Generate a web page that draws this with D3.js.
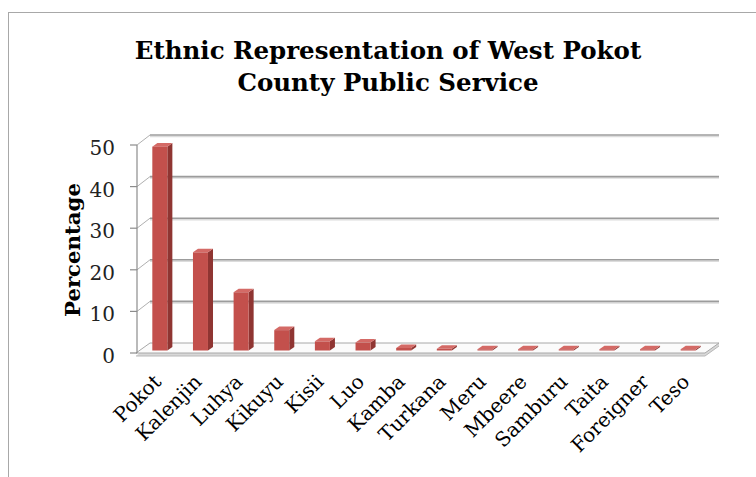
<!DOCTYPE html>
<html>
<head>
<meta charset="utf-8">
<script src="https://cdn.jsdelivr.net/npm/d3@7"></script>
<style>
  html, body { margin: 0; padding: 0; background: #fff; }
  svg { display: block; }
</style>
</head>
<body>
<svg id="chart" width="756" height="477"></svg>
<script>
const titleLines = ["Ethnic Representation of West Pokot", "County Public Service"];
const categories = ["Pokot", "Kalenjin", "Luhya", "Kikuyu", "Kisii", "Luo", "Kamba", "Turkana", "Meru", "Mbeere", "Samburu", "Taita", "Foreigner", "Teso"];
const values = [49, 23.6, 14, 4.9, 2.2, 1.9, 0.6, 0.4, 0.3, 0.3, 0.3, 0.3, 0.3, 0.3];
const yTicks = [0, 10, 20, 30, 40, 50];
const yTitle = "Percentage";

const svg = d3.select("#chart");
const serif = "'DejaVu Serif', 'Liberation Serif', serif";

// frame
svg.append("rect").attr("x", 8.5).attr("y", 12.5).attr("width", 800).attr("height", 500)
  .attr("fill", "none").attr("stroke", "#a8a8a8").attr("stroke-width", 1);

// title
svg.append("g").selectAll("text").data(titleLines).join("text")
  .attr("x", 388).attr("y", (d, i) => 59 + i * 32)
  .attr("text-anchor", "middle")
  .attr("font-family", serif).attr("font-weight", "bold").attr("font-size", 24.5)
  .attr("fill", "#000")
  .text(d => d);

// scales (front plane)
const x = d3.scaleBand().domain(categories).range([136, 705]).paddingInner(0).paddingOuter(0);
const y = d3.scaleLinear().domain([0, 50]).range([353, 145]);
const DX = 14, DY = -10; // depth offset

// back wall gridlines
const grid = svg.append("g");
yTicks.forEach(t => {
  if (t === 0) return;
  const yf = y(t), yb = y(t) + DY;
  grid.append("line").attr("x1", 150).attr("x2", 719).attr("y1", yb + 1.5).attr("y2", yb + 1.5)
    .attr("stroke", "#dcdcdc").attr("stroke-width", 1.5);
  grid.append("line").attr("x1", 150).attr("x2", 719).attr("y1", yb).attr("y2", yb)
    .attr("stroke", "#9c9c9c").attr("stroke-width", 1.6);
  grid.append("line").attr("x1", 137).attr("x2", 150).attr("y1", yf).attr("y2", yb)
    .attr("stroke", "#b0b0b0").attr("stroke-width", 1);
});

// floor
const floor = svg.append("g");
const x0 = x.range()[0], x1 = x.range()[1], yf0 = y(0);
floor.append("path")
  .attr("d", `M${x0},${yf0 + 3} L${x1},${yf0 + 3} L${x1 + DX},${yf0 + 3 + DY} L${x1 + DX},${yf0 + DY} L${x0 + DX},${yf0 + DY} Z`)
  .attr("fill", "#d8d8d8");
floor.append("path")
  .attr("d", `M${x0},${yf0} L${x1},${yf0} L${x1 + DX},${yf0 + DY} L${x0 + DX},${yf0 + DY} Z`)
  .attr("fill", "#fbfbfb").attr("stroke", "#a8a8a8").attr("stroke-width", 1);
floor.append("line").attr("x1", x0).attr("x2", x1).attr("y1", yf0 + 3).attr("y2", yf0 + 3)
  .attr("stroke", "#b8b8b8").attr("stroke-width", 1);
floor.append("line").attr("x1", x1).attr("x2", x1 + DX).attr("y1", yf0 + 3).attr("y2", yf0 + 3 + DY)
  .attr("stroke", "#b8b8b8").attr("stroke-width", 1);

// y axis line and ticks
svg.append("line").attr("x1", 137).attr("x2", 137).attr("y1", y(50)).attr("y2", y(0))
  .attr("stroke", "#8c8c8c").attr("stroke-width", 1.2);
const ax = svg.append("g");
ax.selectAll("line").data(yTicks).join("line")
  .attr("x1", 130).attr("x2", 137).attr("y1", d => y(d)).attr("y2", d => y(d))
  .attr("stroke", "#8c8c8c").attr("stroke-width", 1.2);
ax.selectAll("text").data(yTicks).join("text")
  .attr("x", 115).attr("y", d => y(d) + 10)
  .attr("text-anchor", "end")
  .attr("font-family", serif).attr("font-size", 20).attr("fill", "#222")
  .text(d => d);

// y title
svg.append("text")
  .attr("transform", "translate(80,250) rotate(-90)")
  .attr("text-anchor", "middle")
  .attr("font-family", serif).attr("font-weight", "bold").attr("font-size", 21)
  .attr("textLength", 134).attr("lengthAdjust", "spacingAndGlyphs")
  .attr("fill", "#000")
  .text(yTitle);

// bars (3D)
const bw = 15, fOff = 0.25, depth = 0.36;
const bars = svg.append("g");
categories.forEach((c, i) => {
  const v = values[i];
  const cx = x(c) + x.bandwidth() / 2 + DX * fOff;
  const base = y(0) + DY * fOff;
  const top = y(v) + DY * fOff;
  const l = cx - bw / 2, r = cx + bw / 2;
  const ddx = DX * depth, ddy = DY * depth;
  bars.append("path")
    .attr("d", `M${r},${base} L${r + ddx},${base + ddy} L${r + ddx},${top + ddy} L${r},${top} Z`)
    .attr("fill", "#8f3532");
  bars.append("path")
    .attr("d", `M${l},${top} L${r},${top} L${r + ddx},${top + ddy} L${l + ddx},${top + ddy} Z`)
    .attr("fill", "#d46a66");
  bars.append("rect").attr("x", l).attr("y", top).attr("width", bw).attr("height", Math.max(0.5, base - top))
    .attr("fill", "#c3504c");
});

// category labels
svg.append("g").selectAll("text").data(categories).join("text")
  .attr("transform", d => `translate(${x(d) + x.bandwidth() / 2 + 6},383) rotate(-45)`)
  .attr("text-anchor", "end")
  .attr("font-family", serif).attr("font-size", 20).attr("fill", "#000")
  .text(d => d);
</script>
</body>
</html>
